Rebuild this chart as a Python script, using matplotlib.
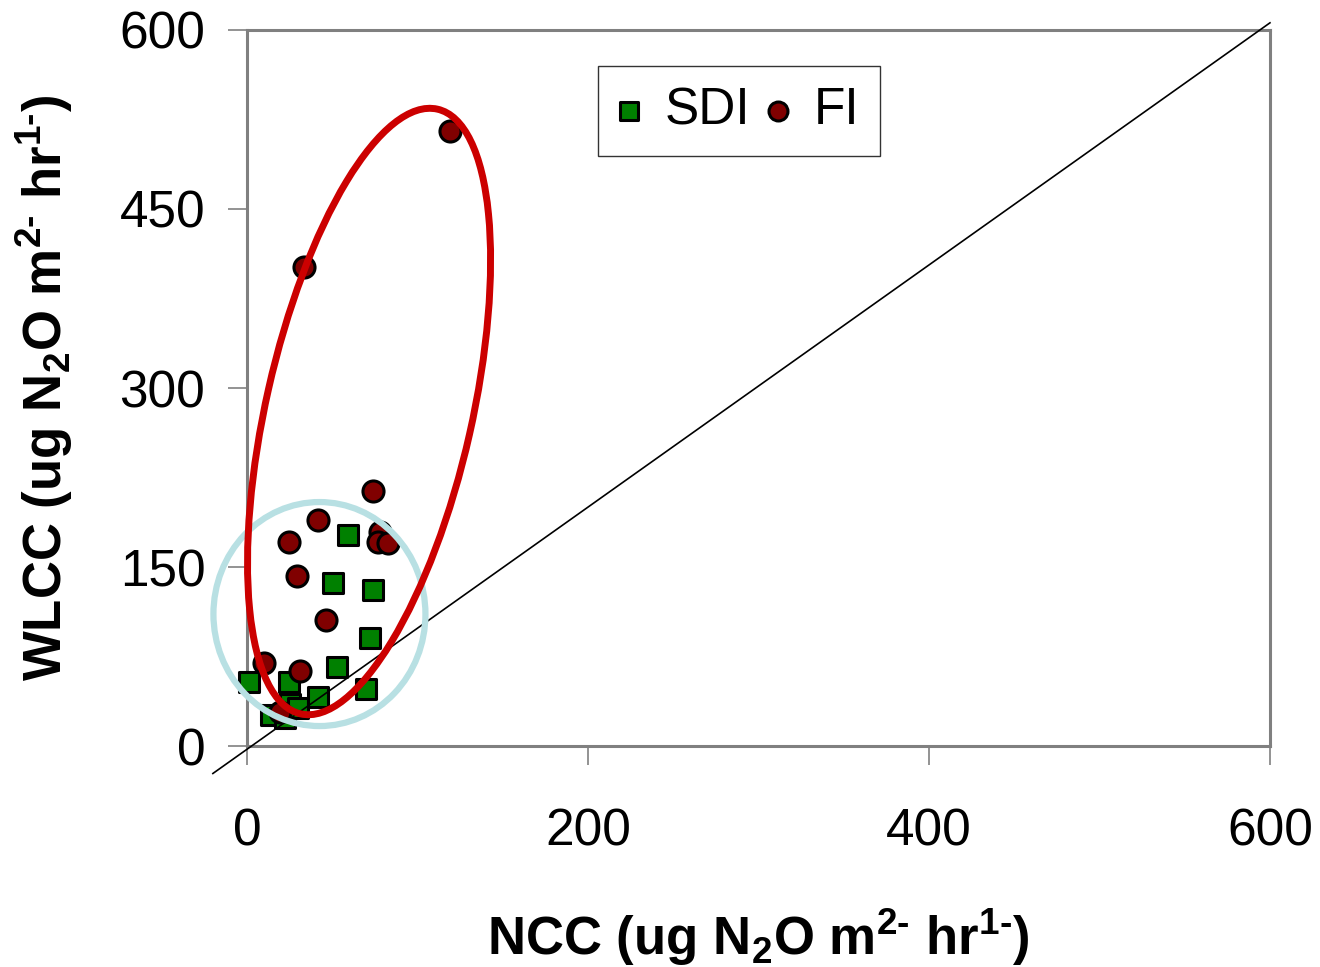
import matplotlib.pyplot as plt
from matplotlib.patches import Ellipse
from matplotlib import transforms

plt.rcParams['font.family'] = ['Liberation Sans', 'DejaVu Sans']
plt.rcParams['mathtext.fontset'] = 'custom'
plt.rcParams['mathtext.rm'] = 'Liberation Sans:bold'
plt.rcParams['mathtext.bf'] = 'Liberation Sans:bold'

# SDI series (NCC, WLCC)
sdi_x = [1.4, 14.1, 22.3, 24.6, 25.2, 30.1, 41.8, 50.6, 52.6, 59.0, 69.6, 72.1, 74.1]
sdi_y = [53.9, 26.0, 23.2, 53.4, 35.2, 31.6, 41.3, 136.9, 66.0, 176.8, 47.5, 90.3, 130.7]

# FI series (NCC, WLCC)
fi_x = [10.2, 19.4, 24.8, 29.1, 31.1, 33.6, 41.8, 46.3, 74.1, 78.0, 77.0, 82.9, 119.0]
fi_y = [69.3, 28.7, 170.7, 142.7, 62.9, 401.7, 189.4, 105.6, 213.7, 179.6, 171.2, 169.8, 515.6]

x_ticks = [0, 200, 400, 600]
y_ticks = [0, 150, 300, 450, 600]

fig = plt.figure(figsize=(13.2, 9.67), dpi=100)
ax = fig.add_axes([0.1871, 0.2285, 0.7750, 0.7405])

ax.scatter(sdi_x, sdi_y, marker='s', s=210, c='#008000', edgecolors='black',
           linewidths=2.2, label='SDI', clip_on=False, zorder=3)
ax.scatter(fi_x, fi_y, marker='o', s=230, c='#800000', edgecolors='black',
           linewidths=2.2, label='FI', clip_on=False, zorder=4)

# 1:1 line
ax.plot([-20, 600], [-23, 606], color='black', lw=1.2, clip_on=False, zorder=5)

# highlight ellipses (size in inches, centred on data coords)
blue_tr = fig.dpi_scale_trans + transforms.ScaledTranslation(42.5, 110.6, ax.transData)
ax.add_patch(Ellipse((0, 0), 2.12, 2.24, angle=0, fill=False, ec='#B8E0E3',
                     lw=4.5, transform=blue_tr, clip_on=False, zorder=6))
red_tr = fig.dpi_scale_trans + transforms.ScaledTranslation(71.6, 280.3, ax.transData)
ax.add_patch(Ellipse((0, 0), 2.06, 6.20, angle=-12.75, fill=False, ec='#CC0000',
                     lw=5, transform=red_tr, clip_on=False, zorder=7))

ax.set_xlim(0, 600)
ax.set_ylim(0, 600)
ax.set_xticks(x_ticks)
ax.set_yticks(y_ticks)
ax.tick_params(axis='both', direction='out', length=14, width=1.2, color='#808080',
               labelsize=37)
ax.tick_params(axis='x', pad=30)
ax.tick_params(axis='y', pad=16)

for sp in ax.spines.values():
    sp.set_color('#808080')
    sp.set_linewidth(2.2)

ax.set_xlabel(r'NCC (ug N$_2$O m$^{2\text{-}}$ hr$^{1\text{-}}$)', fontsize=38,
              fontweight='bold', labelpad=36)
ax.set_ylabel(r'WLCC (ug N$_2$O m$^{2\text{-}}$ hr$^{1\text{-}}$)', fontsize=38,
              fontweight='bold', labelpad=32)

leg = ax.legend(loc='upper left', bbox_to_anchor=(0.343, 0.950), ncol=2,
                fontsize=37, frameon=True, fancybox=False, edgecolor='black',
                handletextpad=0.5, columnspacing=0.33, borderpad=0.4,
                borderaxespad=0, handlelength=0.4, markerscale=0.9)
leg.get_frame().set_linewidth(1.0)

fig.savefig('out.png', dpi=100)
